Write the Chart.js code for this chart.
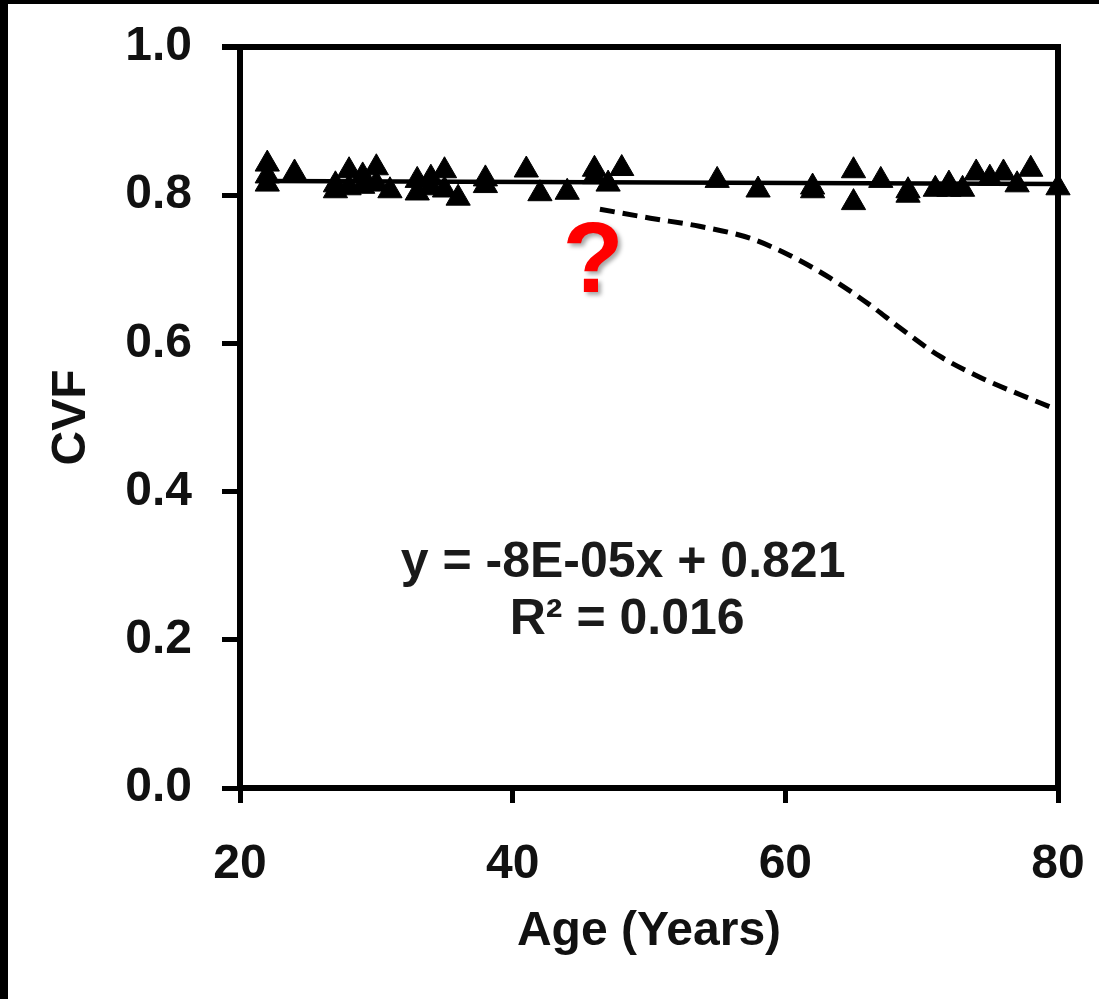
<!DOCTYPE html>
<html>
<head>
<meta charset="utf-8">
<script src="https://cdn.jsdelivr.net/npm/chart.js@4/dist/chart.umd.min.js"></script>
<style>
    html, body { margin: 0; padding: 0; background: #fff; }
    #wrap {
        width: 1099px; height: 999px; box-sizing: border-box;
        border-left: 8px solid #000; border-top: 4px solid #000;
        background: #fff;
    }
    canvas { display: block; }
</style>
</head>
<body>
<div id="wrap"><canvas id="cvfChart" width="1091" height="995"></canvas></div>
<script>
// Measured points (age, CVF)
var ageValues = [22, 22, 22, 24, 27, 27, 28, 28, 29, 29, 30, 30, 31, 33, 33, 34, 34, 35, 35, 36,
                 38, 38, 41, 42, 44, 46, 46, 47, 48, 55, 58, 62, 62, 65, 65, 67, 69, 69, 71, 72,
                 72, 73, 74, 75, 76, 77, 78, 80];
var cvfValues = [0.842, 0.826, 0.815, 0.830, 0.814, 0.806, 0.833, 0.810, 0.826, 0.812, 0.837, 0.815,
                 0.806, 0.820, 0.803, 0.823, 0.810, 0.833, 0.807, 0.796, 0.822, 0.813, 0.834, 0.802,
                 0.804, 0.835, 0.825, 0.815, 0.836, 0.820, 0.807, 0.811, 0.806, 0.833, 0.790, 0.820,
                 0.806, 0.800, 0.808, 0.815, 0.808, 0.808, 0.830, 0.823, 0.830, 0.814, 0.835, 0.810];

// Linear trend line endpoints
var trendAges = [22, 80];
var trendCvf = [0.819, 0.815];

// Hypothetical decline (dashed)
var curveAges = [46.4, 50.1, 53.7, 57.4, 60.3, 63.3, 66.2, 68.4, 71.3, 74.3, 77.2, 79.6];
var curveCvf = [0.781, 0.769, 0.758, 0.742, 0.719, 0.688, 0.652, 0.621, 0.583, 0.554, 0.531, 0.513];

var xTicks = [20, 40, 60, 80];
var yTicks = [0, 0.2, 0.4, 0.6, 0.8, 1.0];

function toXY(xs, ys) {
    return xs.map(function (x, i) { return { x: x, y: ys[i] }; });
}

var FONT = "'Liberation Sans', Arial, Helvetica, sans-serif";

// Frame on top/right plus text annotations
var framePlugin = {
    id: 'frame',
    afterDatasetsDraw: function (chart) {
        var ctx = chart.ctx, a = chart.chartArea;
        var sx = chart.scales.x, sy = chart.scales.y;
        ctx.save();
        ctx.strokeStyle = '#000';
        ctx.lineWidth = 6;
        ctx.beginPath();
        ctx.moveTo(a.left - 18, a.top);
        ctx.lineTo(a.right, a.top);
        ctx.lineTo(a.right, a.bottom);
        ctx.stroke();

        ctx.fillStyle = '#1a1a1a';
        ctx.textAlign = 'center';
        ctx.textBaseline = 'middle';
        ctx.font = 'bold 50px ' + FONT;
        ctx.fillText('y = -8E-05x + 0.821', sx.getPixelForValue(48.1), sy.getPixelForValue(0.304));
        ctx.fillText('R\u00b2 = 0.016', sx.getPixelForValue(48.4), sy.getPixelForValue(0.227));

        ctx.shadowColor = 'rgba(0,0,0,0.35)';
        ctx.shadowBlur = 4;
        ctx.shadowOffsetX = 3;
        ctx.shadowOffsetY = 3;
        ctx.fillStyle = '#ff0000';
        ctx.font = 'bold 100px ' + FONT;
        ctx.fillText('?', sx.getPixelForValue(45.9), sy.getPixelForValue(0.706));
        ctx.restore();
    }
};

var ctx = document.getElementById('cvfChart').getContext('2d');
window.cvfChart = new Chart(ctx, {
    type: 'scatter',
    data: {
        datasets: [{
            label: 'Trend',
            type: 'line',
            data: toXY(trendAges, trendCvf),
            borderColor: '#000',
            borderWidth: 4.5,
            pointRadius: 0,
            fill: false,
            order: 2
        }, {
            label: 'Decline',
            type: 'line',
            data: toXY(curveAges, curveCvf),
            borderColor: '#000',
            borderWidth: 5,
            borderDash: [15, 8],
            pointRadius: 0,
            tension: 0.4,
            cubicInterpolationMode: 'monotone',
            fill: false,
            order: 3
        }, {
            label: 'CVF',
            data: toXY(ageValues, cvfValues),
            pointStyle: 'triangle',
            pointRadius: 14,
            backgroundColor: '#000',
            borderColor: '#000',
            borderWidth: 1,
            clip: false,
            order: 1
        }]
    },
    options: {
        responsive: false,
        maintainAspectRatio: false,
        animation: false,
        layout: { padding: { top: 43, right: 41, left: 0, bottom: 0 } },
        plugins: {
            legend: { display: false },
            tooltip: { enabled: false }
        },
        scales: {
            x: {
                type: 'linear',
                min: 20, max: 80,
                afterFit: function (s) { s.height = 211; s.paddingLeft = 0; s.paddingRight = 0; },
                afterBuildTicks: function (s) { s.ticks = xTicks.map(function (v) { return { value: v }; }); },
                ticks: {
                    color: '#111',
                    padding: 33,
                    font: { family: FONT, size: 48, weight: 'bold' }
                },
                grid: { drawOnChartArea: false, color: '#000', lineWidth: 5, tickLength: 15 },
                border: { display: true, color: '#000', width: 6 },
                title: {
                    display: true,
                    text: 'Age (Years)',
                    color: '#111',
                    padding: { top: 0, bottom: 38 },
                    font: { family: FONT, size: 48, weight: 'bold' }
                }
            },
            y: {
                min: 0, max: 1,
                afterFit: function (s) { s.width = 232; s.paddingTop = 0; s.paddingBottom = 0; },
                afterBuildTicks: function (s) { s.ticks = yTicks.map(function (v) { return { value: v }; }); },
                ticks: {
                    color: '#111',
                    padding: 30,
                    font: { family: FONT, size: 48, weight: 'bold' },
                    callback: function (v) { return v.toFixed(1); }
                },
                grid: { drawOnChartArea: false, color: '#000', lineWidth: 5, tickLength: 18 },
                border: { display: true, color: '#000', width: 6 },
                title: {
                    display: true,
                    text: 'CVF',
                    color: '#111',
                    padding: { top: 35, bottom: 0 },
                    font: { family: FONT, size: 48, weight: 'bold' }
                }
            }
        }
    },
    plugins: [framePlugin]
});
</script>
</body>
</html>
